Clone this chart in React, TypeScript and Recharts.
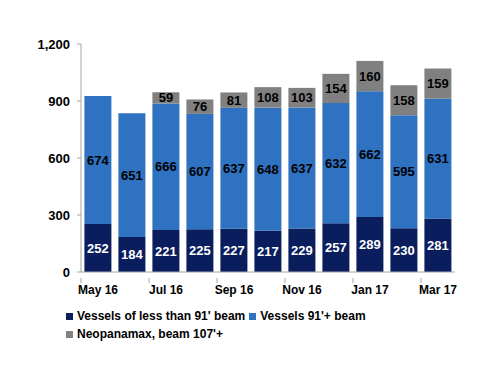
import { BarChart, Bar, XAxis, YAxis, LabelList } from "recharts";

const months = ["May 16", "Jun 16", "Jul 16", "Aug 16", "Sep 16", "Oct 16", "Nov 16", "Dec 16", "Jan 17", "Feb 17", "Mar 17"];
const smallVessels = [252, 184, 221, 225, 227, 217, 229, 257, 289, 230, 281];
const beam91 = [674, 651, 666, 607, 637, 648, 637, 632, 662, 595, 631];
const neopanamax = [0, 0, 59, 76, 81, 108, 103, 154, 160, 158, 159];
const yTicks = [0, 300, 600, 900, 1200];

const data = months.map((m, i) => ({
  month: m,
  small: smallVessels[i],
  mid: beam91[i],
  neo: neopanamax[i],
}));

const FONT = "'Liberation Sans', Arial, sans-serif";
const NAVY = "#0a1e5e";
const BLUE = "#2f72c2";
const GREY = "#808080";
const AXIS = "#a6a6a6";

const series = [
  { key: "small", name: "Vessels of less than 91' beam", color: NAVY, label: "#fff" },
  { key: "mid", name: "Vessels 91'+ beam", color: BLUE, label: "#000" },
  { key: "neo", name: "Neopanamax, beam 107'+", color: GREY, label: "#000" },
];

const fmt = (v: any) => (v ? String(v) : "");

// month label sits at the bar centre, the tick mark on the category's left edge
function MonthTick(props: any) {
  const { x, y, payload } = props;
  const half = 374 / months.length / 2;
  return (
    <g>
      <line x1={x - half} x2={x - half} y1={y - 2} y2={y + 3} stroke={AXIS} />
      <text x={x} y={y + 14} textAnchor="middle" fontFamily={FONT} fontWeight="bold" fontSize={12} fill="#000">
        {payload.value}
      </text>
    </g>
  );
}

function LegendRow({ list }: { list: typeof series }) {
  return (
    <div style={{ display: "flex", alignItems: "center", height: 18 }}>
      {list.map((it) => (
        <span key={it.key} style={{ display: "flex", alignItems: "center", marginRight: 4 }}>
          <span style={{ width: 7, height: 7, background: it.color, marginRight: 4, display: "inline-block" }} />
          <span>{it.name}</span>
        </span>
      ))}
    </div>
  );
}

export default function App() {
  return (
    <div style={{ position: "absolute", left: 0, top: 0, width: 500, height: 386, background: "#fff" }}>
      <BarChart width={500} height={386} data={data} margin={{ top: 44, right: 45, left: 0, bottom: 84 }} barCategoryGap="10%">
        <XAxis dataKey="month" interval={1} tickLine={false} stroke={AXIS} height={30} tick={<MonthTick />} />
        <YAxis
          domain={[0, 1200]}
          ticks={yTicks}
          width={81}
          stroke={AXIS}
          tickSize={4}
          tickMargin={7}
          tickFormatter={(v: number) => v.toLocaleString("en-US")}
          tick={{ fill: "#000", fontFamily: FONT, fontWeight: "bold", fontSize: 13 }}
        />
        {series.map((s) => (
          <Bar key={s.key} dataKey={s.key} name={s.name} stackId="a" fill={s.color} isAnimationActive={false}>
            <LabelList dataKey={s.key} position="center" fill={s.label} fontFamily={FONT} fontWeight="bold" fontSize={13} formatter={fmt} />
          </Bar>
        ))}
      </BarChart>
      <div style={{ position: "absolute", left: 66, top: 307, fontFamily: FONT, fontWeight: "bold", fontSize: 12, color: "#000" }}>
        <LegendRow list={series.slice(0, 2)} />
        <LegendRow list={series.slice(2)} />
      </div>
    </div>
  );
}
